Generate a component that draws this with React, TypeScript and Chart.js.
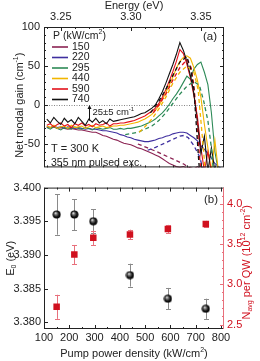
import React, { useEffect, useRef } from 'react';
import { Chart, registerables } from 'chart.js';

Chart.register(...registerables);

const FONT = '"Liberation Sans", Arial, Helvetica, sans-serif';

// ---------- Panel (a): net modal gain spectra ----------
const ENERGY = [
  3.2400, 3.2425, 3.2450, 3.2475, 3.2500, 3.2525, 3.2550, 3.2575, 3.2600, 3.2625,
  3.2650, 3.2675, 3.2700, 3.2725, 3.2750, 3.2775, 3.2800, 3.2825, 3.2850, 3.2875,
  3.2900, 3.2925, 3.2950, 3.2975, 3.3000, 3.3025, 3.3050, 3.3075, 3.3100, 3.3125,
  3.3150, 3.3175, 3.3200, 3.3225, 3.3250, 3.3275, 3.3300, 3.3325, 3.3350, 3.3375,
  3.3400, 3.3425, 3.3450, 3.3475, 3.3500, 3.3525, 3.3550, 3.3575, 3.3600, 3.3625,
  3.3650,
];

const GAIN_150 = [
  -28, -29, -28, -30, -29, -30, -31, -30, -31, -32,
  -32, -33, -34, -35, -35, -37, -39, -40, -42, -44,
  -45, -47, -49, -50, -51, -53, -55, -56, -58, -60,
  -62, -64, -66, -69, -72, -75, -77, -79, -80, -79,
  -81, -80, -82, -79, -82, -82, -82, -82, -82, -82,
  -82,
];
const GAIN_220 = [
  -28, -29, -27, -29, -28, -30, -28, -29, -30, -29,
  -30, -31, -30, -31, -31, -32, -33, -33, -34, -35,
  -36, -38, -39, -41, -42, -44, -45, -46, -47, -47,
  -46, -45, -43, -42, -40, -39, -37, -36, -35, -35,
  -36, -39, -42, -46, -52, -57, -62, -68, -75, -79,
  -82,
];
const GAIN_295 = [
  -29, -31, -28, -30, -32, -29, -30, -31, -28, -30,
  -31, -29, -30, -32, -29, -30, -31, -30, -29, -31,
  -31, -30, -31, -30, -30, -29, -28, -27, -25, -23,
  -21, -18, -14, -10, -5, 1, 8, 14, 21, 29,
  37, 33, 46, 52, 55, 42, 26, -10, -60, -85,
  -85,
];
const GAIN_440 = [
  -27, -29, -26, -30, -28, -27, -30, -26, -29, -28,
  -27, -30, -28, -26, -29, -28, -27, -29, -28, -27,
  -27, -26, -26, -25, -24, -23, -22, -20, -18, -15,
  -12, -7, -1, 7, 16, 26, 36, 47, 56, 61,
  63, 60, 48, 32, 10, -25, -55, -85, -45, -85,
  -85,
];
const GAIN_590 = [
  -26, -24, -28, -25, -23, -27, -25, -29, -24, -26,
  -23, -27, -25, -28, -24, -26, -25, -23, -27, -24,
  -24, -23, -23, -22, -21, -20, -18, -16, -14, -11,
  -8, -4, 2, 10, 20, 31, 43, 56, 71, 66,
  52, 35, 12, -15, -55, -85, -60, -85, -85, -85,
  -85,
];
const GAIN_740 = [
  -18, -23, -16, -21, -25, -17, -22, -19, -24, -16,
  -21, -26, -18, -22, -17, -23, -20, -24, -18, -21,
  -20, -19, -18, -17, -16, -15, -13, -11, -10, -7,
  -4, 0, 8, 17, 28, 40, 52, 65, 80, 70,
  56, 38, 15, -22, -62, -40, -85, -55, -85, -85,
  -85,
];

// dashed model fits
const FIT_150_E = [3.3050, 3.3120, 3.3200, 3.3260, 3.3320, 3.3380, 3.3430];
const FIT_150_G = [-50, -55, -61, -66, -71, -76, -82];
const FIT_220_E = [3.3120, 3.3180, 3.3240, 3.3300, 3.3350, 3.3380, 3.3410, 3.3450, 3.3490, 3.3520];
const FIT_220_G = [-58, -54, -49, -44, -40, -39, -42, -52, -66, -85];
const FIT_295_E = [3.2960, 3.3050, 3.3150, 3.3200, 3.3250, 3.3300, 3.3350, 3.3400, 3.3450, 3.3490, 3.3520, 3.3550, 3.3575, 3.3590];
const FIT_295_G = [-38, -35, -27, -20, -10, 2, 14, 24, 30, 25, 5, -20, -55, -85];
const FIT_440_E = [3.3060, 3.3100, 3.3150, 3.3200, 3.3250, 3.3300, 3.3350, 3.3400, 3.3450, 3.3480, 3.3500, 3.3520, 3.3530];
const FIT_440_G = [-35, -28, -18, -5, 10, 28, 42, 50, 42, 20, -20, -60, -85];
const FIT_590_E = [3.3160, 3.3200, 3.3250, 3.3300, 3.3350, 3.3400, 3.3430, 3.3450, 3.3470, 3.3485, 3.3500];
const FIT_590_G = [-10, 0, 14, 32, 48, 58, 48, 25, -15, -55, -85];
const FIT_740_E = [3.3140, 3.3200, 3.3250, 3.3300, 3.3350, 3.3400, 3.3430, 3.3450, 3.3465, 3.3480, 3.3490];
const FIT_740_G = [-10, 5, 20, 38, 55, 62, 45, 20, -20, -60, -85];

const POWER_LABELS = ['150', '220', '295', '440', '590', '740'];
const POWER_COLORS = ['#8b2252', '#3f2f9f', '#2d8a57', '#f2b600', '#e3121b', '#111111'];

const ENERGY_TICKS = [3.25, 3.3, 3.35];
const ENERGY_MINOR = [3.24, 3.26, 3.27, 3.28, 3.29, 3.31, 3.32, 3.33, 3.34, 3.36];
const GAIN_TICKS = [100, 50, 0, -50];
const GAIN_MINOR = [-70, -60, -40, -30, -20, -10, 10, 20, 30, 40, 60, 70, 80, 90];

const ARROW_E = 3.27;
const ARROW_FROM = -20;

// ---------- Panel (b): E0 and N_avg vs pump ----------
const PUMP = [150, 220, 295, 440, 590, 740];
const E0 = [3.396, 3.396, 3.395, 3.387, 3.3835, 3.382];
const E0_ERR = [0.003, 0.0023, 0.0018, 0.0017, 0.0016, 0.0015];
const NAVG = [2.72, 3.37, 3.58, 3.62, 3.69, 3.75];
const NAVG_ERR = [0.15, 0.12, 0.09, 0.06, 0.05, 0.04];

const PUMP_TICKS = [100, 200, 300, 400, 500, 600, 700, 800];
const PUMP_MINOR = [150, 250, 350, 450, 550, 650, 750];
const E0_TICKS = [3.38, 3.385, 3.39, 3.395, 3.4];
const NAVG_TICKS = [2.5, 3.0, 3.5, 4.0];
const NAVG_MINOR = [2.6, 2.7, 2.8, 2.9, 3.1, 3.2, 3.3, 3.4, 3.6, 3.7, 3.8, 3.9, 4.1];

const RED = '#d0101e';
const RED_LIGHT = '#e8707c';

type Seg = { t: string; s?: 'sup' | 'sub' };

function drawRich(
  ctx: CanvasRenderingContext2D,
  segs: Seg[],
  x: number,
  y: number,
  size: number,
  color: string,
  rotate = 0,
  align: 'left' | 'center' = 'center'
) {
  ctx.save();
  ctx.translate(x, y);
  if (rotate) ctx.rotate(rotate);
  const small = Math.round(size * 0.68);
  const widths = segs.map((sg) => {
    ctx.font = `${sg.s ? small : size}px ${FONT}`;
    return ctx.measureText(sg.t).width;
  });
  const total = widths.reduce((a, b) => a + b, 0);
  let cx = align === 'center' ? -total / 2 : 0;
  ctx.fillStyle = color;
  ctx.textBaseline = 'middle';
  ctx.textAlign = 'left';
  segs.forEach((sg, i) => {
    ctx.font = `${sg.s ? small : size}px ${FONT}`;
    const dy = sg.s === 'sup' ? -size * 0.36 : sg.s === 'sub' ? size * 0.3 : 0;
    ctx.fillText(sg.t, cx, dy);
    cx += widths[i];
  });
  ctx.restore();
}

function inwardTicks(
  ctx: CanvasRenderingContext2D,
  scale: any,
  values: number[],
  len: number,
  edge: 'top' | 'bottom' | 'left' | 'right',
  ca: any,
  color: string
) {
  ctx.save();
  ctx.strokeStyle = color;
  ctx.lineWidth = 1;
  ctx.beginPath();
  values.forEach((v) => {
    const p = Math.round(scale.getPixelForValue(v)) + 0.5;
    if (edge === 'top') { ctx.moveTo(p, ca.top); ctx.lineTo(p, ca.top + len); }
    if (edge === 'bottom') { ctx.moveTo(p, ca.bottom); ctx.lineTo(p, ca.bottom - len); }
    if (edge === 'left') { ctx.moveTo(ca.left, p); ctx.lineTo(ca.left + len, p); }
    if (edge === 'right') { ctx.moveTo(ca.right, p); ctx.lineTo(ca.right - len, p); }
  });
  ctx.stroke();
  ctx.restore();
}

const panelAPlugin = {
  id: 'panelA',
  beforeDatasetsDraw(chart: any) {
    const { ctx, chartArea: ca, scales } = chart;
    const y0 = Math.round(scales.y.getPixelForValue(0)) + 0.5;
    ctx.save();
    ctx.strokeStyle = '#666';
    ctx.lineWidth = 0.8;
    ctx.setLineDash([1, 1.5]);
    ctx.beginPath();
    ctx.moveTo(ca.left, y0);
    ctx.lineTo(ca.right, y0);
    ctx.stroke();
    ctx.restore();
  },
  afterDraw(chart: any) {
    const { ctx, chartArea: ca, scales } = chart;
    const { x, y } = scales;
    // frame
    ctx.save();
    ctx.strokeStyle = '#222';
    ctx.lineWidth = 1;
    ctx.strokeRect(ca.left + 0.5, ca.top + 0.5, ca.right - ca.left - 1, ca.bottom - ca.top - 1);
    ctx.restore();
    inwardTicks(ctx, x, ENERGY_TICKS, 4, 'top', ca, '#222');
    inwardTicks(ctx, x, ENERGY_MINOR, 2, 'top', ca, '#222');
    inwardTicks(ctx, x, ENERGY_TICKS, 4, 'bottom', ca, '#222');
    inwardTicks(ctx, x, ENERGY_MINOR, 2, 'bottom', ca, '#222');
    inwardTicks(ctx, y, GAIN_TICKS, 4, 'left', ca, '#222');
    inwardTicks(ctx, y, GAIN_MINOR, 2, 'left', ca, '#222');
    inwardTicks(ctx, y, GAIN_TICKS, 4, 'right', ca, '#222');
    inwardTicks(ctx, y, GAIN_MINOR, 2, 'right', ca, '#222');

    // axis titles
    drawRich(ctx, [{ t: 'Energy (eV)' }], (ca.left + ca.right) / 2, 6, 11, '#222');
    drawRich(
      ctx,
      [{ t: 'Net modal gain (cm' }, { t: '-1', s: 'sup' }, { t: ')' }],
      20,
      (ca.top + ca.bottom) / 2 + 8,
      11,
      '#222',
      -Math.PI / 2
    );

    // legend
    const lx = ca.left + 8;
    drawRich(ctx, [{ t: 'P (kW/cm' }, { t: '2', s: 'sup' }, { t: ')' }], lx + 1, ca.top + 9, 10.5, '#222', 0, 'left');
    POWER_LABELS.forEach((lab, i) => {
      const ly = ca.top + 20 + i * 10.5;
      ctx.save();
      ctx.strokeStyle = POWER_COLORS[i];
      ctx.lineWidth = 1.6;
      ctx.beginPath();
      ctx.moveTo(lx, ly);
      ctx.lineTo(lx + 16, ly);
      ctx.stroke();
      ctx.restore();
      drawRich(ctx, [{ t: lab }], lx + 20, ly, 10.5, '#222', 0, 'left');
    });

    drawRich(ctx, [{ t: '(a)' }], ca.right - 14, ca.top + 10, 11.5, '#222');

    // annotation texts
    drawRich(ctx, [{ t: 'T = 300 K' }], ca.left + 7, ca.top + 122, 11, '#222', 0, 'left');
    drawRich(ctx, [{ t: '355 nm pulsed exc.' }], ca.left + 7, ca.top + 136, 10.5, '#222', 0, 'left');

    // arrow
    const ax = Math.round(x.getPixelForValue(ARROW_E)) + 0.5;
    const ayTop = y.getPixelForValue(0);
    const ayBot = y.getPixelForValue(ARROW_FROM);
    ctx.save();
    ctx.strokeStyle = '#111';
    ctx.fillStyle = '#111';
    ctx.lineWidth = 1;
    ctx.beginPath();
    ctx.moveTo(ax, ayBot);
    ctx.lineTo(ax, ayTop + 3);
    ctx.stroke();
    ctx.beginPath();
    ctx.moveTo(ax, ayTop);
    ctx.lineTo(ax - 2, ayTop + 4);
    ctx.lineTo(ax + 2, ayTop + 4);
    ctx.closePath();
    ctx.fill();
    ctx.restore();
    drawRich(
      ctx,
      [{ t: '25\u00b15 cm' }, { t: '-1', s: 'sup' }],
      ax + 3,
      y.getPixelForValue(-10),
      9.5,
      '#222',
      0,
      'left'
    );
  },
};

const panelBPlugin = {
  id: 'panelB',
  beforeDatasetsDraw(chart: any) {
    const { ctx, scales } = chart;
    const { x, y, y2 } = scales;
    const bar = (sc: any, xs: number[], vs: number[], es: number[], color: string) => {
      ctx.save();
      ctx.strokeStyle = color;
      ctx.lineWidth = 1;
      ctx.beginPath();
      xs.forEach((xv, i) => {
        const px = Math.round(x.getPixelForValue(xv)) + 0.5;
        const top = sc.getPixelForValue(vs[i] + es[i]);
        const bot = sc.getPixelForValue(vs[i] - es[i]);
        ctx.moveTo(px, top);
        ctx.lineTo(px, bot);
        ctx.moveTo(px - 2.5, Math.round(top) + 0.5);
        ctx.lineTo(px + 2.5, Math.round(top) + 0.5);
        ctx.moveTo(px - 2.5, Math.round(bot) + 0.5);
        ctx.lineTo(px + 2.5, Math.round(bot) + 0.5);
      });
      ctx.stroke();
      ctx.restore();
    };
    bar(y, PUMP, E0, E0_ERR, '#8a8a8a');
    bar(y2, PUMP, NAVG, NAVG_ERR, RED_LIGHT);
  },
  afterDraw(chart: any) {
    const { ctx, chartArea: ca, scales } = chart;
    const { x, y, y2 } = scales;
    ctx.save();
    ctx.lineWidth = 1;
    ctx.strokeStyle = '#222';
    ctx.beginPath();
    ctx.moveTo(ca.right, ca.top + 0.5);
    ctx.lineTo(ca.left + 0.5, ca.top + 0.5);
    ctx.lineTo(ca.left + 0.5, ca.bottom - 0.5);
    ctx.lineTo(ca.right, ca.bottom - 0.5);
    ctx.stroke();
    ctx.strokeStyle = RED_LIGHT;
    ctx.beginPath();
    ctx.moveTo(ca.right - 0.5, ca.top);
    ctx.lineTo(ca.right - 0.5, ca.bottom);
    ctx.stroke();
    ctx.restore();

    inwardTicks(ctx, x, PUMP_TICKS, 4, 'bottom', ca, '#222');
    inwardTicks(ctx, x, PUMP_MINOR, 2, 'bottom', ca, '#222');
    inwardTicks(ctx, x, PUMP_TICKS, 4, 'top', ca, '#222');
    inwardTicks(ctx, x, PUMP_MINOR, 2, 'top', ca, '#222');
    inwardTicks(ctx, y, E0_TICKS, 4, 'left', ca, '#222');
    inwardTicks(ctx, y2, NAVG_TICKS, 4, 'right', ca, RED_LIGHT);
    inwardTicks(ctx, y2, NAVG_MINOR, 2, 'right', ca, RED_LIGHT);

    drawRich(ctx, [{ t: '(b)' }], ca.right - 13, ca.top + 12, 11.5, '#222');

    drawRich(
      ctx,
      [{ t: 'Pump power density (kW/cm' }, { t: '2', s: 'sup' }, { t: ')' }],
      (ca.left + ca.right) / 2,
      ca.bottom + 25,
      11,
      '#222'
    );
    drawRich(
      ctx,
      [{ t: 'E' }, { t: '0', s: 'sub' }, { t: ' (eV)' }],
      11,
      (ca.top + ca.bottom) / 2,
      11,
      '#222',
      -Math.PI / 2
    );
    drawRich(
      ctx,
      [
        { t: 'N' },
        { t: 'avg', s: 'sub' },
        { t: ' per QW (10' },
        { t: '12', s: 'sup' },
        { t: ' cm' },
        { t: '-2', s: 'sup' },
        { t: ')' },
      ],
      247,
      (ca.top + ca.bottom) / 2 + 4,
      11,
      RED,
      -Math.PI / 2
    );
  },
};

function makeSphere(r: number) {
  const c = document.createElement('canvas');
  const d = r * 2 + 1;
  c.width = d;
  c.height = d;
  const g = c.getContext('2d')!;
  const grad = g.createRadialGradient(d * 0.36, d * 0.33, 0.2, d / 2, d / 2, r);
  grad.addColorStop(0, '#f4f4f4');
  grad.addColorStop(0.3, '#777');
  grad.addColorStop(0.7, '#111');
  grad.addColorStop(1, '#000');
  g.fillStyle = grad;
  g.beginPath();
  g.arc(d / 2, d / 2, r, 0, Math.PI * 2);
  g.fill();
  return c;
}

const tickFont = { family: FONT, size: 11 };

function configA(): any {
  const solids = [GAIN_150, GAIN_220, GAIN_295, GAIN_440, GAIN_590, GAIN_740];
  const fitsE = [FIT_150_E, FIT_220_E, FIT_295_E, FIT_440_E, FIT_590_E, FIT_740_E];
  const fitsG = [FIT_150_G, FIT_220_G, FIT_295_G, FIT_440_G, FIT_590_G, FIT_740_G];
  const dashed = [5, 4, 3, 2, 1, 0].map((i) => ({
    label: `fit ${POWER_LABELS[i]}`,
    data: fitsE[i].map((e, k) => ({ x: e, y: fitsG[i][k] })),
    borderColor: POWER_COLORS[i],
    borderWidth: 1.3,
    borderDash: [4, 3],
    pointRadius: 0,
    tension: 0,
    fill: false,
  }));
  const solid = [5, 4, 3, 2, 1, 0].map((i) => ({
    label: POWER_LABELS[i],
    data: ENERGY.map((e, k) => ({ x: e, y: solids[i][k] })),
    borderColor: POWER_COLORS[i],
    borderWidth: 1.1,
    pointRadius: 0,
    tension: 0,
    fill: false,
  }));
  return {
    type: 'line',
    data: { datasets: [...dashed, ...solid] },
    options: {
      animation: false,
      responsive: false,
      maintainAspectRatio: false,
      devicePixelRatio: 1,
      layout: { padding: { left: 0, right: 36, top: 0, bottom: 5 } },
      plugins: { legend: { display: false }, tooltip: { enabled: false } },
      scales: {
        x: {
          type: 'linear',
          position: 'top',
          min: 3.238,
          max: 3.3665,
          grid: { display: false, drawTicks: false },
          border: { display: false },
          ticks: {
            font: tickFont,
            color: '#222',
            padding: 3,
            maxRotation: 0,
            autoSkip: false,
            callback: (v: any) => Number(v).toFixed(2),
          },
          afterBuildTicks: (s: any) => {
            s.ticks = ENERGY_TICKS.map((v) => ({ value: v }));
          },
          afterFit: (s: any) => {
            s.height = 27;
          },
        },
        y: {
          type: 'linear',
          position: 'left',
          min: -80,
          max: 100,
          grid: { display: false, drawTicks: false },
          border: { display: false },
          ticks: {
            font: tickFont,
            color: '#222',
            padding: 4,
            autoSkip: false,
            callback: (v: any) => String(v),
          },
          afterBuildTicks: (s: any) => {
            s.ticks = GAIN_TICKS.map((v) => ({ value: v }));
          },
          afterFit: (s: any) => {
            s.width = 44;
          },
        },
      },
    },
    plugins: [panelAPlugin],
  };
}

function configB(): any {
  const sphere = makeSphere(4);
  return {
    type: 'line',
    data: {
      datasets: [
        {
          label: 'E0',
          data: PUMP.map((p, i) => ({ x: p, y: E0[i] })),
          yAxisID: 'y',
          showLine: false,
          pointStyle: sphere,
          pointRadius: 4,
        },
        {
          label: 'Navg',
          data: PUMP.map((p, i) => ({ x: p, y: NAVG[i] })),
          yAxisID: 'y2',
          showLine: false,
          pointStyle: 'rect',
          pointRadius: 4.6,
          backgroundColor: RED,
          borderColor: RED,
          borderWidth: 0,
        },
      ],
    },
    options: {
      animation: false,
      responsive: false,
      maintainAspectRatio: false,
      devicePixelRatio: 1,
      layout: { padding: { left: 0, right: 0, top: 4, bottom: 0 } },
      plugins: { legend: { display: false }, tooltip: { enabled: false } },
      scales: {
        x: {
          type: 'linear',
          position: 'bottom',
          min: 100,
          max: 812,
          grid: { display: false, drawTicks: false },
          border: { display: false },
          ticks: {
            font: tickFont,
            color: '#222',
            padding: 2,
            maxRotation: 0,
            autoSkip: false,
            callback: (v: any) => String(v),
          },
          afterBuildTicks: (s: any) => {
            s.ticks = PUMP_TICKS.map((v) => ({ value: v }));
          },
          afterFit: (s: any) => {
            s.height = 32;
          },
        },
        y: {
          type: 'linear',
          position: 'left',
          min: 3.379,
          max: 3.4,
          grid: { display: false, drawTicks: false },
          border: { display: false },
          ticks: {
            font: tickFont,
            color: '#222',
            padding: 3,
            autoSkip: false,
            callback: (v: any) => Number(v).toFixed(3),
          },
          afterBuildTicks: (s: any) => {
            s.ticks = E0_TICKS.map((v) => ({ value: v }));
          },
          afterFit: (s: any) => {
            s.width = 44;
          },
        },
        y2: {
          type: 'linear',
          position: 'right',
          min: 2.444,
          max: 4.204,
          grid: { display: false, drawTicks: false },
          border: { display: false },
          ticks: {
            font: tickFont,
            color: RED,
            padding: 3,
            autoSkip: false,
            callback: (v: any) => Number(v).toFixed(1),
          },
          afterBuildTicks: (s: any) => {
            s.ticks = NAVG_TICKS.map((v) => ({ value: v }));
          },
          afterFit: (s: any) => {
            s.width = 36;
          },
        },
      },
    },
    plugins: [panelBPlugin],
  };
}

export default function App() {
  const refA = useRef<HTMLCanvasElement>(null);
  const refB = useRef<HTMLCanvasElement>(null);
  useEffect(() => {
    const a = new Chart(refA.current!, configA());
    const b = new Chart(refB.current!, configB());
    return () => {
      a.destroy();
      b.destroy();
    };
  }, []);
  return (
    <div style={{ position: 'absolute', left: 0, top: 0, width: 260, height: 361, background: '#fff' }}>
      <canvas
        ref={refA}
        width={260}
        height={178}
        style={{ position: 'absolute', left: 0, top: 0, width: 260, height: 178 }}
      />
      <canvas
        ref={refB}
        width={260}
        height={183}
        style={{ position: 'absolute', left: 0, top: 178, width: 260, height: 183 }}
      />
    </div>
  );
}
